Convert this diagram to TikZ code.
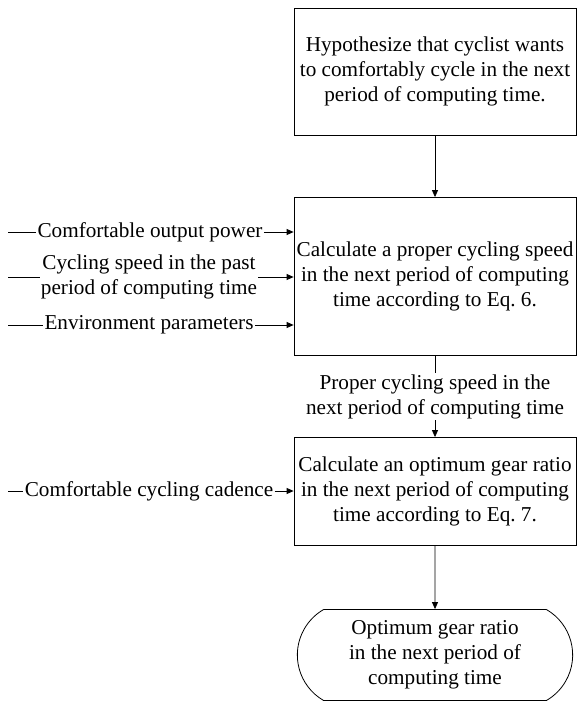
\documentclass[tikz,border=0pt]{standalone}
\usepackage{fontspec}
\setmainfont{Liberation Serif}
\usetikzlibrary{arrows.meta,positioning,shapes.misc}

\begin{document}
\begin{tikzpicture}[x=1pt,y=-1pt,on grid,line width=0.8pt,
   >={Triangle[length=7pt,width=6pt]},
   every node/.style={font=\fontsize{21.2}{25}\selectfont},
   procbox/.style={draw,align=center,minimum width=282pt,inner sep=2pt},
   endbox/.style={draw,rounded rectangle,rounded rectangle arc length=120,
     align=center,minimum width=282pt,minimum height=91pt},
   inlabel/.style={align=center,inner sep=1pt}]
   \useasboundingbox (0,0) rectangle (577,704);

   % main flow
   \node[procbox,minimum height=127pt] (hyp) at (435,71.5)
     {Hypothesize that cyclist wants\\to comfortably cycle in the next\\period of computing time.};
   \node[procbox,minimum height=158pt] (speed) [below=205pt of hyp]
     {Calculate a proper cycling speed\\in the next period of computing\\time according to Eq.~6.};
   \node[inlabel] (propspd) [below=120pt of speed]
     {Proper cycling speed in the\\next period of computing time};
   \node[procbox,minimum height=108pt] (gear) [below=95pt of propspd]
     {Calculate an optimum gear ratio\\in the next period of computing\\time according to Eq.~7.};
   \node[endbox] (optgear) [below=163.5pt of gear]
     {Optimum gear ratio\\in the next period of\\computing time};

   % inputs on the left
   \node[inlabel] (outpow) at (150,232) {Comfortable output power};
   \node[inlabel] (pastspd) at (149,277) {Cycling speed in the past\\period of computing time};
   \node[inlabel] (envpar) at (149,325) {Environment parameters};
   \node[inlabel] (cadence) at (149,491) {Comfortable cycling cadence};
   \coordinate (s1) at (8,232);
   \coordinate (s2) at (8,277);
   \coordinate (s3) at (8,325);
   \coordinate (s4) at (8,491);

   \draw[->] (hyp) -- (speed);
   \draw (speed) -- (propspd);
   \draw[->] (propspd) -- (gear);
   \draw[->] (gear) -- (optgear);
   \foreach \n/\s in {outpow/s1,pastspd/s2,envpar/s3} {
     \draw (\s) -- (\n);
     \draw[->] (\n) -- (\n -| speed.west);
   }
   \draw (s4) -- (cadence);
   \draw[->] (cadence) -- (cadence -| gear.west);
\end{tikzpicture}
\end{document}
